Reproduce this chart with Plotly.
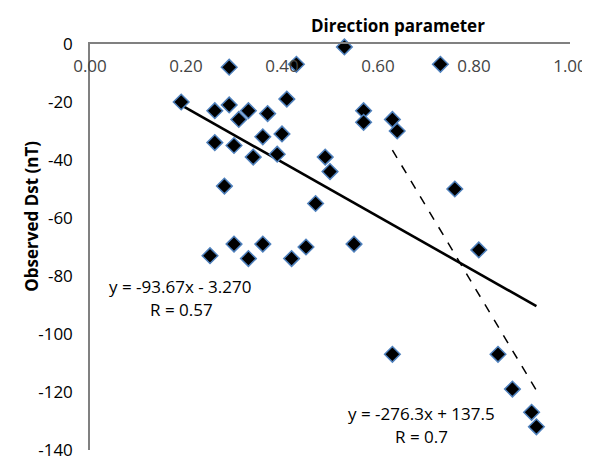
import plotly.graph_objects as go

direction = [0.19, 0.29, 0.43, 0.53, 0.73, 0.41, 0.26, 0.29, 0.33, 0.31,
             0.37, 0.26, 0.30, 0.36, 0.40, 0.34, 0.39, 0.28, 0.25, 0.30,
             0.33, 0.36, 0.42, 0.45, 0.47, 0.49, 0.50, 0.55, 0.57, 0.57,
             0.63, 0.64, 0.76, 0.81, 0.63, 0.85, 0.88, 0.92, 0.93]
dst = [-20, -8, -7, -1, -7, -19, -23, -21, -23, -26,
       -24, -34, -35, -32, -31, -39, -38, -49, -73, -69,
       -74, -69, -74, -70, -55, -39, -44, -69, -23, -27,
       -26, -30, -50, -71, -107, -107, -119, -127, -132]

fit_all = (-93.67, -3.270)
fit_high = (-276.3, 137.5)
high_threshold = 0.6
label_all = ["y = -93.67x - 3.270", "R = 0.57"]
label_high = ["y = -276.3x + 137.5", "R = 0.7"]
x_ticks = [0.0, 0.2, 0.4, 0.6, 0.8, 1.0]
x_ticktext = ["0.00", "0.20", "0.40", "0.60", "0.80", "1.00"]
y_ticks = [0, -20, -40, -60, -80, -100, -120, -140]
y_ticktext = ["0", "-20", "-40", "-60", "-80", "-100", "-120", "-140"]

FONT = "Open Sans"

x_all = [min(direction), max(direction)]
y_all = [fit_all[0] * v + fit_all[1] for v in x_all]
hx = [v for v in direction if v > high_threshold]
x_high = [min(hx), max(hx)]
y_high = [fit_high[0] * v + fit_high[1] for v in x_high]

fig = go.Figure()
fig.add_trace(go.Scatter(x=x_all, y=y_all, mode="lines",
                         line=dict(color="black", width=2.6), showlegend=False))
fig.add_trace(go.Scatter(x=x_high, y=y_high, mode="lines",
                         line=dict(color="black", width=1.5, dash="dash"), showlegend=False))
fig.add_trace(go.Scatter(x=direction, y=dst, mode="markers",
                         marker=dict(symbol="diamond", size=12, color="black",
                                     line=dict(color="#4f81bd", width=1.5)),
                         showlegend=False, cliponaxis=False))

L, R, T, B, W, H = 82, 25, 36, 11, 590, 464
pw, ph = W - L - R, H - T - B


def px(x, y):
    return (x - L) / pw, 1 - (y - T) / ph


def ann(text, x, y, **kw):
    ax, ay = px(x, y)
    d = dict(text=text, x=ax, y=ay, xref="paper", yref="paper", showarrow=False,
             xanchor="center", yanchor="middle")
    d.update(kw)
    return d


fig.update_layout(
    width=W, height=H,
    margin=dict(l=L, r=R, t=T, b=B),
    paper_bgcolor="white", plot_bgcolor="white",
    font=dict(family=FONT, size=17, color="black"),
    xaxis=dict(range=[0, 1], side="top", showline=True, linecolor="#808080", linewidth=1.5,
               showgrid=False, zeroline=False, tickvals=x_ticks, ticktext=x_ticktext,
               ticklabelposition="inside", ticklabelstandoff=17, ticklabeloverflow="allow",
               ticks=""),
    yaxis=dict(range=[-140, 0], showline=True, linecolor="#808080", linewidth=1.5,
               showgrid=False, zeroline=False, tickvals=y_ticks, ticktext=y_ticktext,
               ticks="", ticklabelstandoff=12),
    annotations=[
        ann("<b>Direction parameter</b>", 392, 17, font=dict(size=17)),
        ann("<b>Observed Dst (nT)</b>", 23, 213, textangle=-90, font=dict(size=17)),
        ann(label_all[0], 173, 285),
        ann(label_all[1], 174, 309),
        ann(label_high[0], 416, 415),
        ann(label_high[1], 416, 439),
    ],
)
fig.write_html("out.html")
